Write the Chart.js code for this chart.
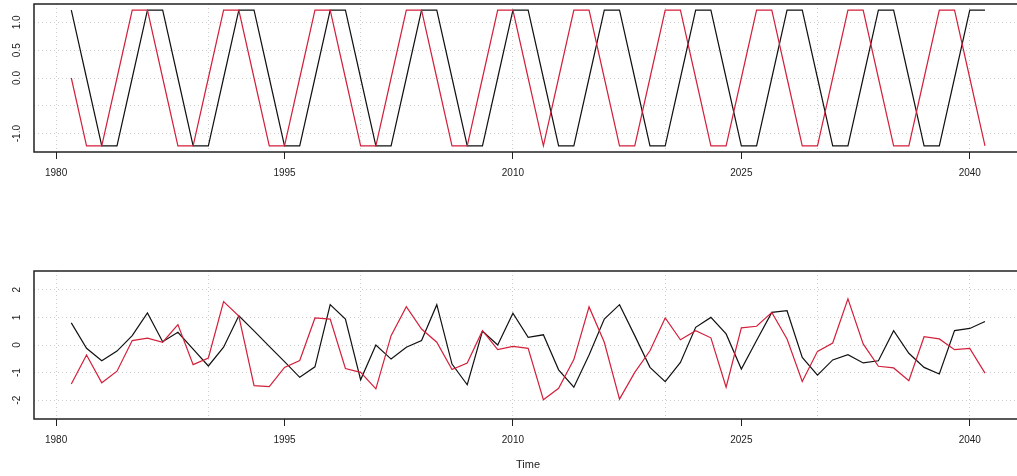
<!DOCTYPE html>
<html>
<head>
<meta charset="utf-8">
<script src="https://cdn.jsdelivr.net/npm/chart.js@4/dist/chart.umd.min.js"></script>
<style>
  html, body { margin: 0; padding: 0; background: #fff; overflow: hidden; }
  #top { position: absolute; left: 0; top: 0; }
  #bottom { position: absolute; left: 0; top: 240px; }
</style>
</head>
<body>
<canvas id="top" width="1022" height="190"></canvas>
<canvas id="bottom" width="1022" height="236"></canvas>
<script>
const years = [1981, 1982, 1983, 1984, 1985, 1986, 1987, 1988, 1989, 1990,
    1991, 1992, 1993, 1994, 1995, 1996, 1997, 1998, 1999, 2000,
    2001, 2002, 2003, 2004, 2005, 2006, 2007, 2008, 2009, 2010,
    2011, 2012, 2013, 2014, 2015, 2016, 2017, 2018, 2019, 2020,
    2021, 2022, 2023, 2024, 2025, 2026, 2027, 2028, 2029, 2030,
    2031, 2032, 2033, 2034, 2035, 2036, 2037, 2038, 2039, 2040, 2041];

// top panel
const topBlack = [1.22, 0, -1.22, -1.22, 0, 1.22, 1.22, 0, -1.22, -1.22,
    0, 1.22, 1.22, 0, -1.22, -1.22, 0, 1.22, 1.22, 0,
    -1.22, -1.22, 0, 1.22, 1.22, 0, -1.22, -1.22, 0, 1.22,
    1.22, 0, -1.22, -1.22, 0, 1.22, 1.22, 0, -1.22, -1.22,
    0, 1.22, 1.22, 0, -1.22, -1.22, 0, 1.22, 1.22, 0,
    -1.22, -1.22, 0, 1.22, 1.22, 0, -1.22, -1.22, 0, 1.22, 1.22];
const topRed = [0, -1.22, -1.22, 0, 1.22, 1.22, 0, -1.22, -1.22, 0,
    1.22, 1.22, 0, -1.22, -1.22, 0, 1.22, 1.22, 0, -1.22,
    -1.22, 0, 1.22, 1.22, 0, -1.22, -1.22, 0, 1.22, 1.22,
    0, -1.22, 0, 1.22, 1.22, 0, -1.22, -1.22, 0, 1.22,
    1.22, 0, -1.22, -1.22, 0, 1.22, 1.22, 0, -1.22, -1.22,
    0, 1.22, 1.22, 0, -1.22, -1.22, 0, 1.22, 1.22, 0, -1.22];

// bottom panel
const bottomBlack = [0.80, -0.12, -0.57, -0.22, 0.34, 1.16, 0.12, 0.46, -0.15, -0.76,
    -0.08, 1.06, 0.51, -0.05, -0.60, -1.17, -0.79, 1.46, 0.94, -1.26,
    0.00, -0.51, -0.08, 0.16, 1.46, -0.69, -1.44, 0.50, 0.00, 1.15,
    0.28, 0.37, -0.90, -1.53, -0.36, 0.94, 1.46, 0.34, -0.81, -1.33,
    -0.63, 0.64, 1.00, 0.40, -0.87, 0.16, 1.18, 1.24, -0.45, -1.09,
    -0.54, -0.35, -0.65, -0.57, 0.52, -0.30, -0.81, -1.05, 0.52, 0.60, 0.85];
const bottomRed = [-1.41, -0.36, -1.37, -0.95, 0.16, 0.25, 0.10, 0.74, -0.71, -0.47,
    1.57, 1.05, -1.47, -1.51, -0.81, -0.56, 0.98, 0.94, -0.85, -0.99,
    -1.59, 0.34, 1.39, 0.58, 0.10, -0.89, -0.65, 0.52, -0.17, -0.05,
    -0.12, -1.98, -1.57, -0.53, 1.38, 0.10, -1.96, -0.99, -0.21, 0.98,
    0.19, 0.52, 0.26, -1.53, 0.62, 0.68, 1.18, 0.22, -1.32, -0.23,
    0.07, 1.67, 0.04, -0.77, -0.83, -1.29, 0.30, 0.22, -0.17, -0.12, -1.02];

const labelYears = [1980, 1995, 2010, 2025, 2040];
const gridYears = [1980, 1990, 2000, 2010, 2020, 2030, 2040];

const topYTicks = [-1, -0.5, 0, 0.5, 1];
const topYLabels = ['-1.0', '', '0.0', '0.5', '1.0'];
const bottomYTicks = [-2, -1, 0, 1, 2];
const bottomYLabels = ['-2', '-1', '0', '1', '2'];

const FONT = '"Liberation Sans", Arial, sans-serif';
const INK = '#222';
const GRID = '#cdcdcd';

// box round the plot and the upright y labels, R style
const frame = {
    id: 'frame',
    afterDraw(chart) {
        const { ctx, chartArea: a } = chart;
        const y = chart.scales.y;
        const labels = chart.options.scales.y.tickLabels;
        ctx.save();
        ctx.strokeStyle = INK;
        ctx.lineWidth = 1.5;
        ctx.strokeRect(a.left, a.top, a.right - a.left, a.bottom - a.top);
        ctx.fillStyle = INK;
        ctx.font = '10px ' + FONT;
        ctx.textAlign = 'center';
        ctx.textBaseline = 'middle';
        y.ticks.forEach((t, i) => {
            const text = t.label || labels[i];
            if (!text) return;
            ctx.save();
            ctx.translate(17, y.getPixelForValue(t.value));
            ctx.rotate(-Math.PI / 2);
            ctx.fillText(text, 0, 0);
            ctx.restore();
        });
        ctx.restore();
    }
};

const makeChart = (id, black, red, yRange, yTicks, yLabels, padTop, axisHeight, showTitle) => {
    const xTicks = [...new Set([...gridYears, ...labelYears])].sort((a, b) => a - b);
    return new Chart(document.getElementById(id), {
        type: 'line',
        data: {
            datasets: [{
                data: years.map((x, i) => ({ x: x, y: black[i] })),
                borderColor: '#111',
                borderWidth: 1.2,
                pointRadius: 0,
                order: 1
            }, {
                data: years.map((x, i) => ({ x: x, y: red[i] })),
                borderColor: '#d41f3a',
                borderWidth: 1.2,
                pointRadius: 0,
                order: 0
            }]
        },
        options: {
            responsive: false,
            animation: false,
            layout: { padding: { top: padTop, left: 0, right: 0, bottom: 0 } },
            plugins: { legend: { display: false }, tooltip: { enabled: false } },
            scales: {
                x: {
                    type: 'linear',
                    min: 1978.55,
                    max: 2043.43,
                    bounds: 'data',
                    afterBuildTicks: (s) => { s.ticks = xTicks.map((v) => ({ value: v })); },
                    afterFit: (s) => { s.height = axisHeight; },
                    grid: {
                        color: (c) => gridYears.includes(c.tick && c.tick.value) ? GRID : 'transparent',
                        tickColor: (c) => labelYears.includes(c.tick && c.tick.value) ? INK : 'transparent',
                        tickLength: 7,
                        tickWidth: 1
                    },
                    border: { display: false, dash: [1, 3] },
                    ticks: {
                        autoSkip: false,
                        maxRotation: 0,
                        padding: 8,
                        color: INK,
                        font: { family: FONT, size: 10 },
                        callback: (v) => labelYears.includes(v) ? String(v) : ''
                    },
                    title: {
                        display: showTitle,
                        text: 'Time',
                        color: INK,
                        font: { family: FONT, size: 11, lineHeight: 1 },
                        padding: { top: 0, bottom: 6 }
                    }
                },
                y: {
                    min: yRange[0],
                    max: yRange[1],
                    tickLabels: yLabels,
                    afterBuildTicks: (s) => { s.ticks = yTicks.map((v) => ({ value: v })); },
                    afterFit: (s) => { s.width = 34; },
                    grid: { color: GRID, drawTicks: false },
                    border: { display: false, dash: [1, 3] },
                    ticks: {
                        display: false,
                        callback: (v, i) => yLabels[i]
                    }
                }
            }
        },
        plugins: [frame]
    });
};

makeChart('top', topBlack, topRed, [-1.33, 1.33], topYTicks, topYLabels, 4, 38, false);
makeChart('bottom', bottomBlack, bottomRed, [-2.68, 2.68], bottomYTicks, bottomYLabels, 31, 57, true);
</script>
</body>
</html>
